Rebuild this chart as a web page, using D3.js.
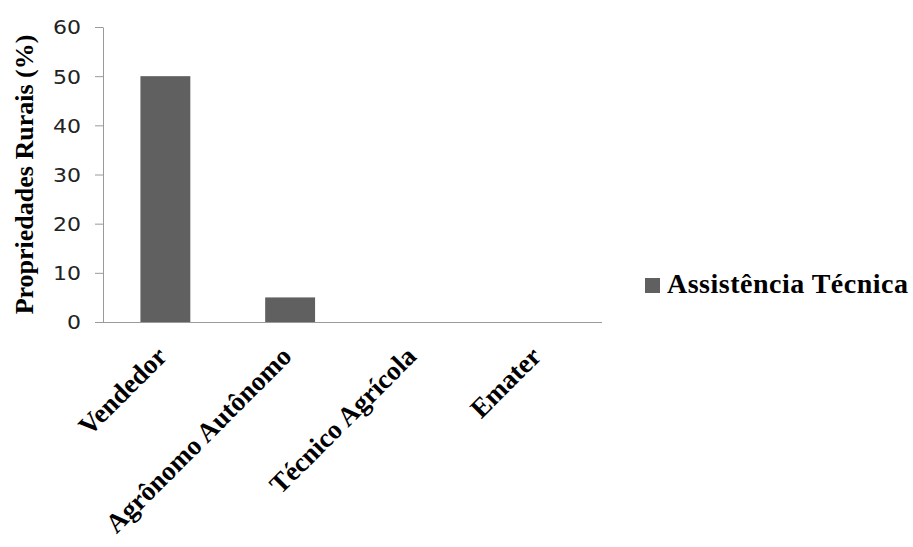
<!DOCTYPE html>
<html>
<head>
<meta charset="utf-8">
<script src="https://d3js.org/d3.v7.min.js"></script>
<style>
  body { margin: 0; background: #fff; }
</style>
</head>
<body>
<svg id="chart"></svg>
<script>
// data
var categories = ["Vendedor", "Agrônomo Autônomo", "Técnico Agrícola", "Emater"]
var values = [50, 5, 0, 0]
var yTicks = [0, 10, 20, 30, 40, 50, 60]
var seriesName = "Assistência Técnica"
var yTitle = "Propriedades Rurais (%)"

var dimensions = {
  width: 913,
  height: 547,
  margin: { top: 27, bottom: 225, left: 103, right: 311 }
}

var barColor = "#606060"
var axisColor = "#9a9a9a"

var svg = d3.select("#chart")
  .attr("width", dimensions.width)
  .attr("height", dimensions.height)

var xScale = d3.scaleBand()
  .domain(categories)
  .range([dimensions.margin.left, dimensions.width - dimensions.margin.right])
  .paddingInner(0.6)
  .paddingOuter(0.3)

var yScale = d3.scaleLinear()
  .domain([0, 60])
  .range([dimensions.height - dimensions.margin.bottom, dimensions.margin.top])

// bars
svg.selectAll("rect.bar")
  .data(values)
  .enter().append("rect")
  .attr("class", "bar")
  .attr("x", (d, i) => xScale(categories[i]))
  .attr("y", d => yScale(d))
  .attr("width", xScale.bandwidth())
  .attr("height", d => yScale(0) - yScale(d))
  .attr("fill", barColor)

// y axis
var yAxis = svg.append("g")
  .attr("transform", `translate(${dimensions.margin.left},0)`)
  .call(d3.axisLeft(yScale).tickValues(yTicks).tickSize(8).tickPadding(14).tickSizeOuter(0))
yAxis.selectAll("path, line").attr("stroke", axisColor)
yAxis.selectAll("text")
  .attr("font-family", "DejaVu Sans")
  .attr("font-size", 19)
  .attr("fill", "#222")
  .attr("dy", "0.36em")
  .attr("textLength", d => String(d).length * 14)
  .attr("lengthAdjust", "spacingAndGlyphs")

// x axis
var xAxis = svg.append("g")
  .attr("transform", `translate(0,${yScale(0)})`)
  .call(d3.axisBottom(xScale).tickSize(0).tickSizeOuter(0).tickFormat(""))
xAxis.select("path").attr("stroke", axisColor)
xAxis.select("path").attr("d", `M${dimensions.margin.left},0.5H${dimensions.width - dimensions.margin.right}`)

// rotated category labels
svg.selectAll("text.xlabel")
  .data(categories)
  .enter().append("text")
  .attr("class", "xlabel")
  .attr("text-anchor", "end")
  .attr("font-family", "Liberation Serif")
  .attr("font-weight", "bold")
  .attr("font-size", 27)
  .attr("fill", "#000")
  .attr("transform", d => `translate(${xScale(d) + xScale.bandwidth() / 2 + 3},${yScale(0) + 36}) rotate(-45)`)
  .text(d => d)

// y axis title
svg.append("text")
  .attr("text-anchor", "middle")
  .attr("font-family", "Liberation Serif")
  .attr("font-weight", "bold")
  .attr("font-size", 26)
  .attr("transform", `translate(33,${(yScale(0) + yScale(60)) / 2}) rotate(-90)`)
  .text(yTitle)

// legend
var legend = svg.append("g").attr("transform", "translate(645,278)")
legend.append("rect")
  .attr("width", 15)
  .attr("height", 15)
  .attr("fill", barColor)
legend.append("text")
  .attr("x", 22)
  .attr("y", 15)
  .attr("font-family", "Liberation Serif")
  .attr("font-weight", "bold")
  .attr("font-size", 28)
  .attr("textLength", 241)
  .attr("lengthAdjust", "spacing")
  .text(seriesName)
</script>
</body>
</html>
